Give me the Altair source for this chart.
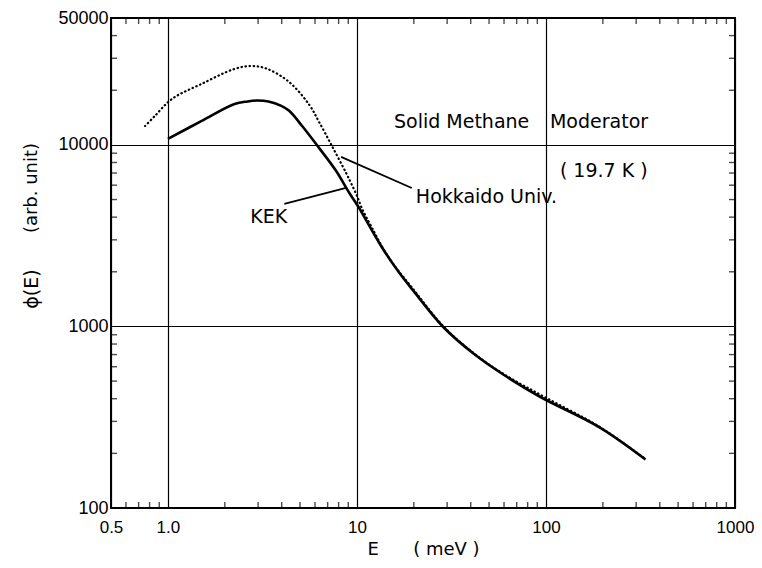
import altair as alt
import pandas as pd

# ---- data ----
kek_E = [1.0, 1.51, 2.25, 2.64, 2.95, 3.4, 3.98, 4.38, 5.13, 6.3, 7.75, 9.1, 9.87, 10.2,
         13.5, 16.6, 20, 28.7, 42, 60, 93, 192, 336]
kek_phi = [10800, 13550, 16800, 17350, 17550, 17350, 16400, 15400, 12700, 9630, 7200, 5450, 4790, 4550,
           2750, 2000, 1560, 990, 700, 540, 410, 278, 185]

hok_E = [0.757, 0.854, 1.05, 1.51, 2.25, 2.77, 3.36, 4.38, 5.6, 6.3, 7.37, 8.76, 9.3, 10.0, 10.6,
         12, 14.7, 20, 28.7, 42, 60, 100, 192, 336]
hok_phi = [12700, 14450, 17900, 21700, 26200, 27200, 26200, 22200, 16600, 13400, 9880, 7010, 6170,
           5250, 4500, 3500, 2400, 1590, 1000, 705, 545, 405, 280, 186]

x_tick_values = [0.5, 1, 10, 100, 1000]
x_tick_labels = ["0.5", "1.0", "10", "100", "1000"]
y_tick_values = [100, 1000, 10000, 50000]
y_tick_labels = ["100", "1000", "10000", "50000"]

x_minor = [0.6, 0.7, 0.8, 0.9, 2, 3, 4, 5, 6, 7, 8, 9,
           20, 30, 40, 50, 60, 70, 80, 90, 200, 300, 400, 500, 600, 700, 800, 900]
y_minor = [200, 300, 400, 500, 600, 700, 800, 900, 2000, 3000, 4000, 5000, 6000, 7000,
           8000, 9000, 20000, 30000, 40000]

NB = "\u00a0"
ann_text = ["Solid Methane", "Moderator", f"({NB}19.7{NB}K{NB})", f"Hokkaido{NB}Univ.", "KEK"]
ann_E = [15.7, 105, 118.5, 20.5, 2.73]
ann_phi = [13400, 13400, 7200, 5170, 4010]

ptr_E1 = [8.24, 4.13]
ptr_phi1 = [8590, 4730]
ptr_E2 = [19.5, 8.76]
ptr_phi2 = [5790, 5790]

x_title = f"E{NB * 6}({NB}meV{NB})"

FONT = "DejaVu Sans"
TICKFONT = "Liberation Sans"
W, H = 624, 490

xs = alt.Scale(type="log", domain=[0.5, 1000], nice=False)
ys = alt.Scale(type="log", domain=[100, 50000], nice=False)

kek = pd.DataFrame({"E": kek_E, "phi": kek_phi})
hok = pd.DataFrame({"E": hok_E, "phi": hok_phi})
xm = pd.DataFrame({"E": x_minor})
ym = pd.DataFrame({"phi": y_minor})
ann = pd.DataFrame({"E": ann_E, "phi": ann_phi, "t": ann_text})
ptr = pd.DataFrame({"E": ptr_E1, "phi": ptr_phi1, "E2": ptr_E2, "phi2": ptr_phi2})

xlab_expr = " : ".join(
    [f"datum.value == {v} ? '{l}'" for v, l in zip(x_tick_values, x_tick_labels)]) + " : datum.label"
ylab_expr = " : ".join(
    [f"datum.value == {v} ? '{l}'" for v, l in zip(y_tick_values, y_tick_labels)]) + " : datum.label"

x_axis = alt.Axis(values=x_tick_values, labelExpr=xlab_expr, grid=True, gridColor="black",
                  gridWidth=1.2, gridOpacity=1, ticks=False, domain=False, labelFlush=False,
                  labelFont=TICKFONT, labelFontSize=17, labelColor="black", labelPadding=11,
                  title=x_title, titleFont=FONT, titleFontSize=18,
                  titleFontWeight="normal", titleColor="black", titlePadding=5)
y_axis = alt.Axis(values=y_tick_values, labelExpr=ylab_expr, grid=True, gridColor="black",
                  gridWidth=1.2, gridOpacity=1, ticks=False, domain=False, labelFlush=False,
                  labelFont=TICKFONT, labelFontSize=18, labelColor="black", labelPadding=3,
                  title="")

X = alt.X("E:Q", scale=xs, axis=x_axis)
Y = alt.Y("phi:Q", scale=ys, axis=y_axis)

kek_line = alt.Chart(kek).mark_line(color="black", strokeWidth=2.6, interpolate="catmull-rom").encode(
    x=X, y=Y)
hok_line = alt.Chart(hok).mark_line(color="black", strokeWidth=2.2, strokeDash=[0.5, 3.6],
                                    strokeCap="round", interpolate="catmull-rom").encode(x=X, y=Y)

tick_bottom = alt.Chart(xm).mark_tick(orient="vertical", size=6, thickness=1.4, color="black").encode(
    x=X, y=alt.value(H - 3))
tick_top = alt.Chart(xm).mark_tick(orient="vertical", size=6, thickness=1.4, color="black").encode(
    x=X, y=alt.value(3))
tick_left = alt.Chart(ym).mark_tick(orient="horizontal", size=6, thickness=1.4, color="black").encode(
    y=Y, x=alt.value(3))
tick_right = alt.Chart(ym).mark_tick(orient="horizontal", size=6, thickness=1.4, color="black").encode(
    y=Y, x=alt.value(W - 3))

pointers = alt.Chart(ptr).mark_rule(color="black", strokeWidth=1.8).encode(
    x=X, y=Y, x2="E2:Q", y2="phi2:Q")

labels = alt.Chart(ann).mark_text(font=FONT, fontSize=19, align="left", baseline="middle",
                                  color="black").encode(x=X, y=Y, text="t:N")

ytitle_a = alt.Chart(pd.DataFrame({"t": ["(arb. unit)"]})).mark_text(
    font=FONT, fontSize=18, angle=270, align="center", baseline="middle", color="black").encode(
    x=alt.value(-79), y=alt.value(170), text="t:N")
ytitle_b = alt.Chart(pd.DataFrame({"t": ["ϕ(E)"]})).mark_text(
    font=FONT, fontSize=19, angle=270, align="center", baseline="middle", color="black").encode(
    x=alt.value(-79), y=alt.value(271), text="t:N")

chart = alt.layer(
    kek_line, hok_line, tick_bottom, tick_top, tick_left, tick_right, pointers, labels,
    ytitle_a, ytitle_b
).properties(
    width=W, height=H, autosize="none",
    padding={"left": 103, "top": 10, "right": 19, "bottom": 50},
).configure_view(stroke="black", strokeWidth=2)

chart.save("out.html", embed_options={"renderer": "svg", "actions": False})
